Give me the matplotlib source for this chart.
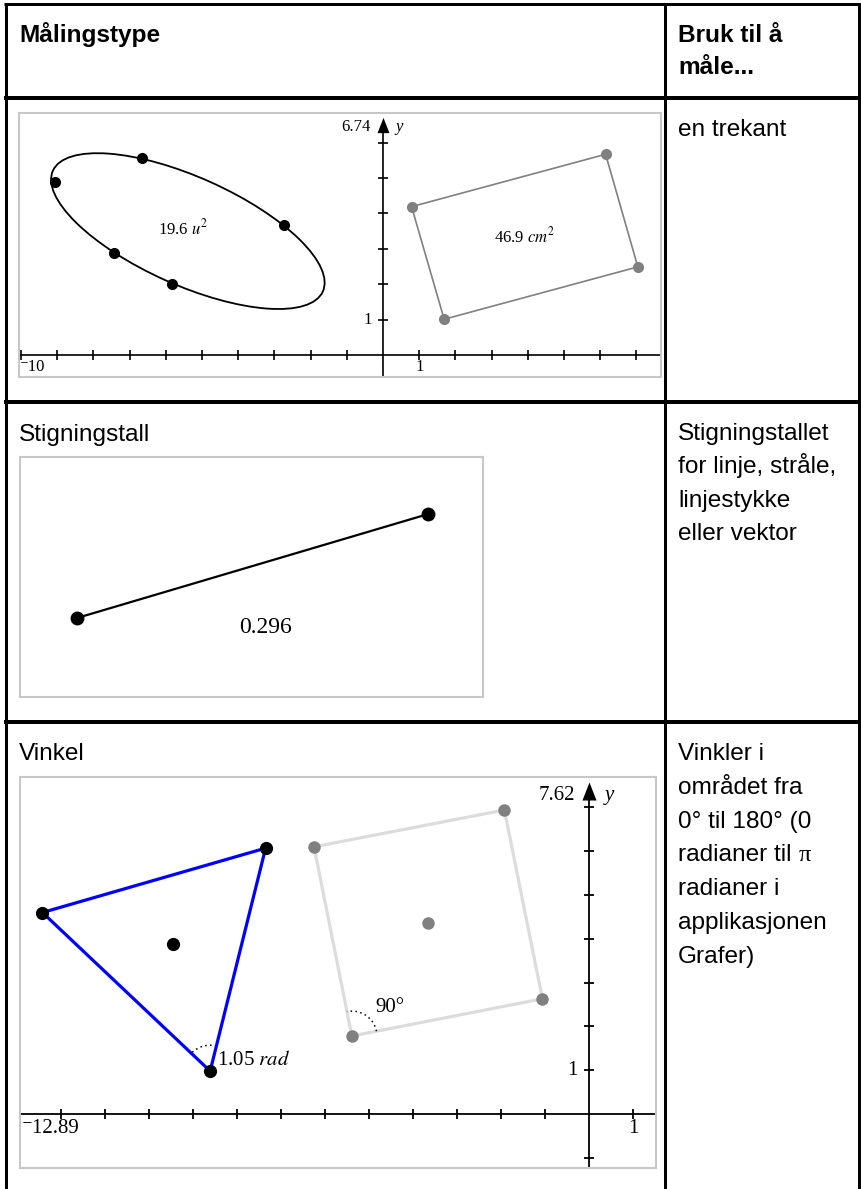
import numpy as np
import matplotlib
matplotlib.use("Agg")
import matplotlib.pyplot as plt
from matplotlib.patches import Arc, Ellipse
import matplotlib.transforms as mtransforms

plt.rcParams['mathtext.fontset'] = 'stix'

W, H, DPI = 862, 1189, 100

# ---------------- data ----------------
header_left = "Målingstype"
header_right = ["Bruk til å", "måle..."]
row_titles = ["", "Stigningstall", "Vinkel"]
row1_desc = ["en trekant"]
row2_desc = ["Stigningstallet", "for linje, stråle,", "linjestykke", "eller vektor"]
row3_desc = ["Vinkler i", "området fra", "0° til 180° (0", "radianer til", "radianer i",
             "applikasjonen", "Grafer)"]

# Row 1 : area
r1_xrange = (-10.055, 7.68)
r1_yrange = (-0.621, 6.836)
r1_xticks = [-10, -9, -8, -7, -6, -5, -4, -3, -2, -1, 1, 2, 3, 4, 5, 6, 7]
r1_yticks = [1, 2, 3, 4, 5, 6]
ellipse_center = (-5.39, 3.50)
ellipse_axes = (4.10, 1.52)
ellipse_angle = -24.7
ellipse_pts_x = [-6.66, -9.06, -2.73, -7.43, -5.83]
ellipse_pts_y = [5.56, 4.89, 3.67, 2.88, 2.01]
rect_x = [6.15, 0.79, 1.69, 7.04]
rect_y = [5.67, 4.19, 1.01, 2.49]
area_labels = ["19.6 $u^{2}$", "46.9 $cm^{2}$"]
r1_ymax_label = "6.74"
r1_xmin_label = "\u207b10"

# Row 2 : slope
slope_x = [0.0, 10.0]
slope_y = [0.0, 2.96]
slope_label = "0.296"
r2_xrange = (-1.624, 11.567)
r2_yrange = (-2.251, 4.587)

# Row 3 : angle
r3_xrange = (-12.93, 1.52)
r3_yrange = (-1.233, 7.694)
r3_xticks = [-12, -11, -10, -9, -8, -7, -6, -5, -4, -3, -2, -1, 1]
r3_yticks = [-1, 1, 2, 3, 4, 5, 6, 7]
tri_x = [-7.35, -12.42, -8.61]
tri_y = [6.07, 4.60, 0.98]
square_x = [-1.925, -6.25, -5.39, -1.06]
square_y = [6.94, 6.10, 1.78, 2.63]
angle_labels = ["1.05 $rad$", "90°"]
r3_ymax_label = "7.62"
r3_xmin_label = "\u207b12.89"

SANS = ['Liberation Sans', 'DejaVu Sans']
SERIF = ['Liberation Serif', 'DejaVu Serif']

fig = plt.figure(figsize=(W / DPI, H / DPI), dpi=DPI)

# ---------------- table overlay ----------------
ax0 = fig.add_axes([0, 0, 1, 1])
ax0.set_xlim(0, W)
ax0.set_ylim(H, 0)
ax0.axis('off')

LW3 = 3 * 72 / DPI
LW4 = 4 * 72 / DPI
ax0.plot([4.5, 861], [4.3, 4.3], color='k', lw=LW3, solid_capstyle='butt')
ax0.plot([6, 6], [3, H], color='k', lw=LW3, solid_capstyle='butt')
ax0.plot([859.5, 859.5], [3, H], color='k', lw=LW3, solid_capstyle='butt')
ax0.plot([665, 665], [3, H], color='k', lw=LW3, solid_capstyle='butt')
for yy in (98, 401.5, 722):
    ax0.plot([4.5, 861], [yy, yy], color='k', lw=LW4, solid_capstyle='butt')

FS = 17.6
ax0.text(19, 42, header_left, fontsize=FS, fontweight='bold', family=SANS, va='baseline')
for i, s in enumerate(header_right):
    ax0.text(678, 42 + 32 * i, s, fontsize=FS, fontweight='bold', family=SANS, va='baseline')

ax0.text(19, 441, row_titles[1], fontsize=FS, family=SANS, va='baseline')
ax0.text(19, 760, row_titles[2], fontsize=FS, family=SANS, va='baseline')

for i, s in enumerate(row1_desc):
    ax0.text(678, 136 + 33.5 * i, s, fontsize=FS, family=SANS, va='baseline')
for i, s in enumerate(row2_desc):
    ax0.text(678, 440 + 33.3 * i, s, fontsize=FS, family=SANS, va='baseline')
pi_text = None
for i, s in enumerate(row3_desc):
    t = ax0.text(678, 760 + 33.8 * i, s, fontsize=FS, family=SANS, va='baseline')
    if s == "radianer til":
        pi_text = (t, 760 + 33.8 * i)

fig.canvas.draw()
renderer = fig.canvas.get_renderer()
t, yb = pi_text
bb = t.get_window_extent(renderer)
x_end = ax0.transData.inverted().transform((bb.x1, bb.y0))[0]
ax0.text(x_end + 7, yb, "\u03c0", fontsize=FS, family=SERIF, va='baseline')


def px_axes(l, t, r, b):
    ax = fig.add_axes([l / W, 1 - b / H, (r - l) / W, (b - t) / H])
    ax.set_xticks([])
    ax.set_yticks([])
    for sp in ax.spines.values():
        sp.set_color('#c8c8c8')
        sp.set_linewidth(1.5)
    return ax


def draw_axes(ax, xr, yr, xticks, yticks, tip, tick_ms, arrow_h, lw):
    ax.set_xlim(*xr)
    ax.set_ylim(*yr)
    ax.plot(list(xr), [0, 0], color='k', lw=lw, zorder=2, solid_capstyle='butt')
    ax.plot([0, 0], [yr[0], tip - 0.2], color='k', lw=lw, zorder=2, solid_capstyle='butt')
    ax.plot(xticks, np.zeros(len(xticks)), ls='none', marker='|', ms=tick_ms, mew=lw,
            color='k', zorder=2, clip_on=False)
    ax.plot(np.zeros(len(yticks)), yticks, ls='none', marker='_', ms=tick_ms, mew=lw,
            color='k', zorder=2)
    tr = mtransforms.offset_copy(ax.transData, fig=fig, y=-arrow_h / 2, units='points')
    ax.plot([0], [tip], ls='none', marker=[(0, 1), (-0.78, -1), (0.78, -1), (0, 1)],
            ms=arrow_h, color='k', mew=0, transform=tr, zorder=3)


# ---------------- Row 1 ----------------
ax1 = px_axes(19, 113, 661, 377)
draw_axes(ax1, r1_xrange, r1_yrange, r1_xticks, r1_yticks, 6.72, 6.5, 11, 1.2)
ax1.add_patch(Ellipse(ellipse_center, 2 * ellipse_axes[0], 2 * ellipse_axes[1],
                      angle=ellipse_angle, fill=False, color='k', lw=1.3, zorder=3))
ax1.plot(ellipse_pts_x, ellipse_pts_y, ls='none', marker='o', ms=8, color='k', mew=0, zorder=4)
ax1.plot(rect_x + rect_x[:1], rect_y + rect_y[:1], color='#808080', lw=1.2, zorder=3)
ax1.plot(rect_x, rect_y, ls='none', marker='o', ms=8, color='#808080', mew=0, zorder=4)
ax1.text(ellipse_center[0] - 0.14, ellipse_center[1] + 0.08, area_labels[0], fontsize=12,
         family=SERIF, ha='center', va='center')
ax1.text(np.mean(rect_x), np.mean(rect_y), area_labels[1], fontsize=12,
         family=SERIF, ha='center', va='center')
ax1.text(-0.33, 6.44, r1_ymax_label, fontsize=12, family=SERIF, ha='right', va='center')
ax1.text(0.33, 6.44, "y", fontsize=12, family=SERIF, style='italic', ha='left', va='center')
ax1.text(-0.3, 1, "1", fontsize=12, family=SERIF, ha='right', va='center')
ax1.text(1, -0.34, "1", fontsize=12, family=SERIF, ha='center', va='center')
ax1.text(r1_xrange[0] + 0.03, -0.34, r1_xmin_label, fontsize=12, family=SERIF,
         ha='left', va='center')

# ---------------- Row 2 ----------------
ax2 = px_axes(20, 457, 483, 697)
ax2.set_xlim(*r2_xrange)
ax2.set_ylim(*r2_yrange)
ax2.plot(slope_x, slope_y, color='k', lw=1.6, zorder=3)
ax2.plot(slope_x, slope_y, ls='none', marker='o', ms=10, color='k', mew=0, zorder=4)
ax2.text(np.mean(slope_x) + 0.38, -0.28, slope_label, fontsize=17, family=SERIF,
         ha='center', va='center')

# ---------------- Row 3 ----------------
ax3 = px_axes(20, 777, 656, 1168)
draw_axes(ax3, r3_xrange, r3_yrange, r3_xticks, r3_yticks, 7.58, 7.5, 13, 1.3)
ax3.plot(square_x + square_x[:1], square_y + square_y[:1], color='#dcdcdc', lw=2.3, zorder=3)
ax3.plot(square_x + [np.mean(square_x)], square_y + [np.mean(square_y)], ls='none',
         marker='o', ms=9, color='#808080', mew=0, zorder=4)
ax3.plot(tri_x + tri_x[:1], tri_y + tri_y[:1], color='#0000ff', lw=2.3, zorder=5)
ax3.plot(tri_x + [np.mean(tri_x)], tri_y + [np.mean(tri_y)], ls='none', marker='o',
         ms=9.5, color='k', mew=0, zorder=6)


def angle_arc(ax, vx, vy, ax_, ay_, bx, by, r):
    a1 = np.degrees(np.arctan2(ay_ - vy, ax_ - vx))
    a2 = np.degrees(np.arctan2(by - vy, bx - vx))
    lo, hi = sorted([a1, a2])
    if hi - lo > 180:
        lo, hi = hi, lo + 360
    ax.add_patch(Arc((vx, vy), 2 * r, 2 * r, theta1=lo, theta2=hi, color='k',
                     lw=1.1, ls=(0, (1, 2.2)), zorder=4))


angle_arc(ax3, tri_x[2], tri_y[2], tri_x[0], tri_y[0], tri_x[1], tri_y[1], 0.59)
angle_arc(ax3, square_x[2], square_y[2], square_x[1], square_y[1], square_x[3], square_y[3], 0.57)
ax3.text(-8.45, 1.21, angle_labels[0], fontsize=15, family=SERIF, ha='left', va='center')
ax3.text(-4.52, 2.44, angle_labels[1], fontsize=15, family=SERIF, ha='center', va='center')
ax3.text(-0.32, 7.28, r3_ymax_label, fontsize=15, family=SERIF, ha='right', va='center')
ax3.text(0.36, 7.28, "y", fontsize=15, family=SERIF, style='italic', ha='left', va='center')
ax3.text(-0.27, 1, "1", fontsize=15, family=SERIF, ha='right', va='center')
ax3.text(1, -0.32, "1", fontsize=15, family=SERIF, ha='center', va='center')
ax3.text(-12.89, -0.32, r3_xmin_label, fontsize=15, family=SERIF, ha='left', va='center')

fig.savefig("out.png", dpi=DPI)
